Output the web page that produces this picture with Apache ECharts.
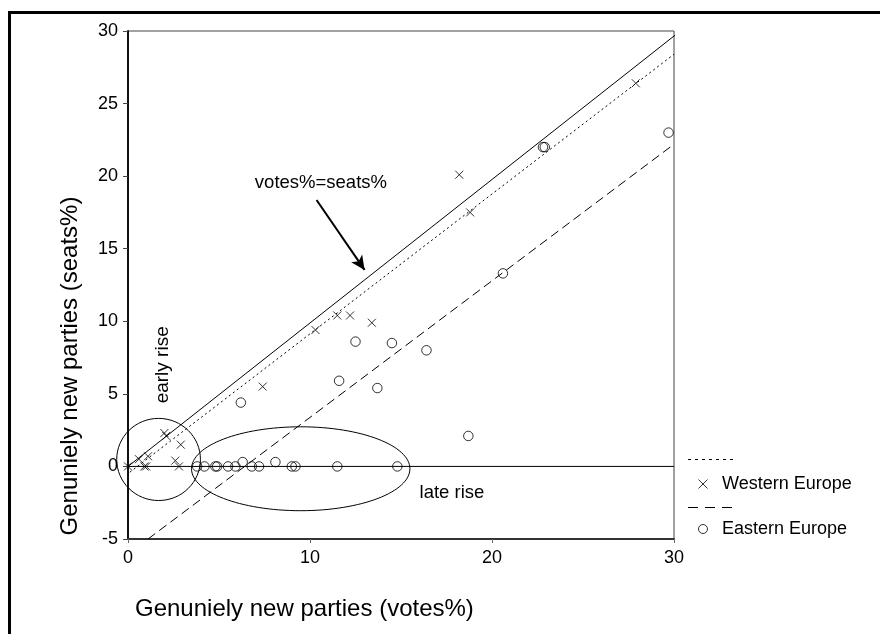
<!DOCTYPE html>
<html>
<head>
<meta charset="utf-8">
<script src="https://cdn.jsdelivr.net/npm/echarts@6/dist/echarts.min.js"></script>
<style>
html,body{margin:0;padding:0;background:#fff;}
#chart{width:880px;height:634px;}
</style>
</head>
<body>
<div id="chart"></div>
<script>
// ---- data ----
var westX = [0, 0.6, 0.9, 1.0, 1.1, 2.0, 2.1, 2.9, 2.6, 2.8, 7.4, 10.3, 11.5, 12.2, 13.4, 18.2, 18.8, 27.9];
var westY = [0, 0.5, 0, 0, 0.7, 2.3, 2.1, 1.5, 0.4, 0, 5.5, 9.4, 10.4, 10.4, 9.9, 20.1, 17.5, 26.4];
var eastX = [3.8, 4.2, 4.8, 4.9, 5.5, 5.9, 6.3, 6.8, 7.2, 8.1, 9.0, 9.2, 11.5, 14.8, 6.2, 11.6, 12.5, 13.7, 14.5, 16.4, 18.7, 20.6, 22.8, 22.9, 29.7];
var eastY = [0, 0, 0, 0, 0, 0, 0.3, 0, 0, 0.3, 0, 0, 0, 0, 4.4, 5.9, 8.6, 5.4, 8.5, 8.0, 2.1, 13.3, 22.0, 22.0, 23.0];

// reference / fitted lines (end points)
var equalLineX = [0, 30.35];
var equalLineY = [0, 30];
var westFitX = [0.1, 30];
var westFitY = [-0.4, 28.4];
var eastFitX = [1.1, 30];
var eastFitY = [-5, 22.2];
var zeroLineX = [0, 30];
var zeroLineY = [0, 0];

// annotation ellipses (data units)
var ellipseCx = [1.68, 9.49];
var ellipseCy = [0.48, -0.16];
var ellipseRx = [2.3, 6.0];
var ellipseRy = [2.83, 2.89];

// arrow (data units)
var arrowFrom = [10.36, 18.36];
var arrowTo = [13.0, 13.54];

// annotation texts
var noteText = ['votes%=seats%', 'late rise', 'early rise'];
var noteX = [10.6, 17.8, 1.9];
var noteY = [19.5, -1.83, 7.0];
var noteRot = [0, 0, Math.PI / 2];

var xTicks = [0, 10, 20, 30];
var yTicks = [-5, 0, 5, 10, 15, 20, 25, 30];

var seriesNames = ['Western Europe', 'Eastern Europe'];
var xTitle = 'Genuniely new parties (votes%)';
var yTitle = 'Genuniely new parties (seats%)';

function zip(a, b) { return a.map(function (v, i) { return [v, b[i]]; }); }

var FONT = '"Liberation Sans", Arial, sans-serif';
var chart = echarts.init(document.getElementById('chart'), null, {renderer: 'canvas'});

var crossPath = 'path://M0,0L10,10M10,0L0,10';

var option = {
  animation: false,
  backgroundColor: '#fff',
  textStyle: {fontFamily: FONT, color: '#000'},
  grid: {left: 128, top: 31, width: 546, height: 508, show: true, borderColor: '#444', borderWidth: 1, backgroundColor: 'transparent'},
  xAxis: {
    type: 'value', min: xTicks[0], max: xTicks[xTicks.length - 1], interval: 10,
    splitLine: {show: false},
    axisLine: {show: true, onZero: false, lineStyle: {color: '#333', width: 2}},
    axisTick: {show: true, length: 4, lineStyle: {color: '#666'}},
    axisLabel: {fontSize: 18, color: '#000', margin: 10, fontFamily: FONT}
  },
  yAxis: {
    type: 'value', min: yTicks[0], max: yTicks[yTicks.length - 1], interval: 5,
    splitLine: {show: false},
    axisLine: {show: true, onZero: false, lineStyle: {color: '#111', width: 2}},
    axisTick: {show: true, length: 5, lineStyle: {color: '#444'}},
    axisLabel: {fontSize: 18, color: '#000', margin: 10, fontFamily: FONT}
  },
  legend: {
    orient: 'vertical', left: 693, top: 470, itemGap: 27,
    itemWidth: 28, itemHeight: 9,
    itemStyle: {borderWidth: 1},
    textStyle: {fontSize: 18, color: '#000', fontFamily: FONT, padding: [0, 0, 0, 0]},
    data: seriesNames
  },
  graphic: [
    {type: 'rect', z: 100, silent: true, shape: {x: 9.5, y: 12.5, width: 1000, height: 1000}, style: {fill: 'none', stroke: '#000', lineWidth: 3}},
    {type: 'line', shape: {x1: 688, y1: 459.5, x2: 733, y2: 459.5}, style: {stroke: '#000', lineWidth: 1, lineDash: [3, 4]}},
    {type: 'line', shape: {x1: 688, y1: 507.5, x2: 733, y2: 507.5}, style: {stroke: '#000', lineWidth: 1, lineDash: [10, 7]}},
    {type: 'text', style: {text: xTitle, x: 135, y: 609, verticalAlign: 'middle', font: '24px ' + FONT, fill: '#000'}},
    {type: 'text', rotation: Math.PI / 2, x: 70, y: 366, style: {text: yTitle, x: 0, y: 0, align: 'center', verticalAlign: 'middle', font: '24px ' + FONT, fill: '#000'}}
  ],
  series: [
    {
      name: seriesNames[0], type: 'scatter', data: zip(westX, westY),
      symbol: crossPath, symbolSize: 8,
      itemStyle: {color: 'rgba(0,0,0,0)', borderColor: '#000', borderWidth: 1},
      z: 5
    },
    {
      name: seriesNames[1], type: 'scatter', data: zip(eastX, eastY),
      symbol: 'circle', symbolSize: 9.5,
      itemStyle: {color: 'rgba(0,0,0,0)', borderColor: '#000', borderWidth: 1},
      z: 5
    },
    {
      type: 'line', data: zip(equalLineX, equalLineY), symbol: 'none', clip: false,
      lineStyle: {color: '#000', width: 1}, silent: true,
      markLine: {
        silent: true, symbol: ['none', 'arrow'], symbolSize: [10, 14],
        label: {show: false},
        lineStyle: {color: '#000', width: 2, type: 'solid'},
        data: [[{coord: arrowFrom}, {coord: arrowTo}]]
      }
    },
    {type: 'line', data: zip(westFitX, westFitY), symbol: 'none', clip: false, lineStyle: {color: '#000', width: 1, type: [2, 3]}, silent: true},
    {type: 'line', data: zip(eastFitX, eastFitY), symbol: 'none', lineStyle: {color: '#000', width: 1, type: [9, 5]}, silent: true},
    {type: 'line', data: zip(zeroLineX, zeroLineY), symbol: 'none', lineStyle: {color: '#000', width: 1}, silent: true},
    {
      type: 'custom', silent: true, clip: false,
      data: ellipseCx.map(function (c, i) { return [c, ellipseCy[i], ellipseRx[i], ellipseRy[i]]; }),
      renderItem: function (params, api) {
        var c = api.coord([api.value(0), api.value(1)]);
        var s = api.size([api.value(2), api.value(3)]);
        return {type: 'ellipse', shape: {cx: c[0], cy: c[1], rx: s[0], ry: s[1]}, style: {fill: 'none', stroke: '#000', lineWidth: 1}};
      }
    },
    {
      type: 'custom', silent: true, clip: false,
      data: noteX.map(function (x, i) { return [x, noteY[i], i]; }),
      renderItem: function (params, api) {
        var c = api.coord([api.value(0), api.value(1)]);
        var i = api.value(2);
        return {type: 'text', x: c[0], y: c[1], rotation: noteRot[i],
          style: {text: noteText[i], align: 'center', verticalAlign: 'middle', font: (i === 2 ? '19px ' : '18.5px ') + FONT, fill: '#000'}};
      }
    }
  ]
};
chart.setOption(option);
</script>
</body>
</html>
